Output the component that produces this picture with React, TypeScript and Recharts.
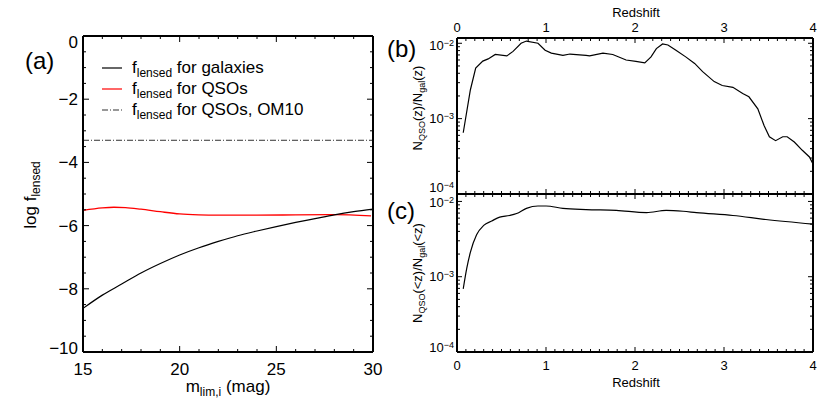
import React from "react";
import { LineChart, Line, XAxis, YAxis, Legend } from "recharts";

const FONT = "'Liberation Sans', Arial, Helvetica, sans-serif";

// panel (a): log of lensed fraction vs limiting i-band magnitude
const galaxyMag = [15, 16, 17, 18, 19, 20, 21, 22, 23, 24, 25, 26, 27, 28, 29, 30];
const galaxyLogF = [-8.62, -8.2, -7.85, -7.5, -7.2, -6.93, -6.7, -6.5, -6.32, -6.17, -6.03, -5.9, -5.78, -5.66, -5.56, -5.48];
const qsoMag = [15, 16, 16.6, 17.2, 18, 19, 20, 21, 22, 24, 26, 28, 29.9];
const qsoLogF = [-5.52, -5.44, -5.42, -5.43, -5.48, -5.56, -5.63, -5.66, -5.67, -5.67, -5.66, -5.65, -5.69];
const om10Mag = [15, 30];
const om10LogF = [-3.3, -3.3];

// panel (b): N_QSO(z)/N_gal(z)
const diffZ = [0.07, 0.15, 0.21, 0.29, 0.35, 0.43, 0.56, 0.63, 0.72, 0.78, 0.91, 0.99, 1.06, 1.19, 1.27, 1.45, 1.49, 1.64, 1.75, 1.9, 2.01, 2.11, 2.18, 2.24, 2.31, 2.37, 2.46, 2.57, 2.67, 2.76, 2.89, 2.98, 3.1, 3.21, 3.28, 3.38, 3.45, 3.51, 3.58, 3.66, 3.71, 3.79, 3.88, 3.96, 4.0];
const diffRatio = [6.5e-4, 2.4e-3, 4.7e-3, 5.8e-3, 6.2e-3, 7.1e-3, 6.8e-3, 7.8e-3, 1.0e-2, 1.07e-2, 1.0e-2, 8.1e-3, 7.4e-3, 6.9e-3, 7.2e-3, 6.9e-3, 6.8e-3, 7.4e-3, 7.1e-3, 6.0e-3, 5.75e-3, 5.5e-3, 6.6e-3, 8.5e-3, 9.8e-3, 9.5e-3, 8.1e-3, 6.6e-3, 5.4e-3, 4.2e-3, 3.1e-3, 2.75e-3, 2.6e-3, 2.15e-3, 1.95e-3, 1.35e-3, 8.1e-4, 5.75e-4, 5.1e-4, 5.75e-4, 5.75e-4, 4.9e-4, 3.8e-4, 3.1e-4, 2.5e-4];

// panel (c): N_QSO(<z)/N_gal(<z)
const cumZ = [0.07, 0.11, 0.15, 0.22, 0.3, 0.39, 0.48, 0.59, 0.67, 0.78, 0.91, 1.0, 1.19, 1.45, 1.79, 2.13, 2.35, 2.54, 2.69, 3.1, 3.47, 4.0];
const cumRatio = [6.9e-4, 1.3e-3, 2.1e-3, 3.6e-3, 4.8e-3, 5.5e-3, 6.2e-3, 6.5e-3, 6.9e-3, 8.1e-3, 8.7e-3, 8.7e-3, 8.1e-3, 7.8e-3, 7.6e-3, 7.1e-3, 7.6e-3, 7.4e-3, 7.1e-3, 6.5e-3, 5.75e-3, 5.0e-3];

// ticks
const magTicks = [15, 20, 25, 30];
const magMinor = [16, 17, 18, 19, 21, 22, 23, 24, 26, 27, 28, 29];
const logFTicks = [-10, -8, -6, -4, -2, 0];
const logFMinor = [-9.5, -9, -8.5, -7.5, -7, -6.5, -5.5, -5, -4.5, -3.5, -3, -2.5, -1.5, -1, -0.5];
const zTicks = [0, 1, 2, 3, 4];
const zMinor = Array.from({ length: 40 }, (_, i) => i / 10).filter((v) => v % 1 !== 0);
const ratioTicks = [1e-4, 1e-3, 1e-2];
const ratioMinor = [2e-4, 3e-4, 4e-4, 5e-4, 6e-4, 7e-4, 8e-4, 9e-4, 2e-3, 3e-3, 4e-3, 5e-3, 6e-3, 7e-3, 8e-3, 9e-3];

const legendLabels = ["for galaxies", "for QSOs", "for QSOs, OM10"];

const galaxyRows = galaxyMag.map((m, i) => ({ m, f: galaxyLogF[i] }));
const qsoRows = qsoMag.map((m, i) => ({ m, f: qsoLogF[i] }));
const om10Rows = om10Mag.map((m, i) => ({ m, f: om10LogF[i] }));
const diffRows = diffZ.map((z, i) => ({ z, r: diffRatio[i] }));
const cumRows = cumZ.map((z, i) => ({ z, r: cumRatio[i] }));

const SPINE = { stroke: "#000", strokeWidth: 2 };
const OM10_DASH = "6 2 1 2";

type Side = "left" | "right" | "top" | "bottom";
type LabelFn = (x: number, y: number, v: number) => React.ReactNode;

const near = (a: number, b: number) => Math.abs(a - b) <= Math.abs(b) * 1e-6 + 1e-9;
const minus = (v: number) => (v < 0 ? "\u2212" + Math.abs(v) : String(v));

// draws inward tick marks (and label for major ticks)
const tickMark = (side: Side, majors: number[], majorLen: number, minorLen: number, label?: LabelFn) =>
  (props: any) => {
    const { x, y, payload } = props;
    const v = payload.value;
    const major = majors.some((m) => near(v, m));
    const len = major ? majorLen : minorLen;
    const dx = side === "left" ? len : side === "right" ? -len : 0;
    const dy = side === "top" ? len : side === "bottom" ? -len : 0;
    return (
      <g>
        <line x1={x} y1={y} x2={x + dx} y2={y + dy} stroke="#000" strokeWidth={1} />
        {major && label ? label(x, y, v) : null}
      </g>
    );
  };

const magLabel: LabelFn = (x, y, v) => (
  <text x={x} y={y + 11} dy="0.71em" textAnchor="middle" fontSize={17} fontFamily={FONT} fill="#000">{v}</text>
);
const logFLabel: LabelFn = (x, y, v) => {
  const shift = v === 0 ? 6 : v === -10 ? -4 : 0;
  return (
    <text x={x - 5} y={y + shift} dy="0.35em" textAnchor="end" fontSize={17} fontFamily={FONT} fill="#000">{minus(v)}</text>
  );
};
const zTopLabel: LabelFn = (x, y, v) => (
  <text x={x} y={y - 6} textAnchor="middle" fontSize={13} fontFamily={FONT} fill="#000">{v}</text>
);
const zBottomLabel: LabelFn = (x, y, v) => (
  <text x={x} y={y + 9} dy="0.71em" textAnchor="middle" fontSize={13} fontFamily={FONT} fill="#000">{v}</text>
);
const powLabel = (shifts: Record<number, number>): LabelFn => (x, y, v) => {
  const e = Math.round(Math.log10(v));
  return (
    <text x={x - 3} y={y + (shifts[e] ?? 0)} dy="0.35em" textAnchor="end" fontSize={13} fontFamily={FONT} fill="#000">
      10<tspan fontSize={9} dy={-4}>{"\u2212" + Math.abs(e)}</tspan>
    </text>
  );
};

const LensedLegend = () => (
  <svg width={270} height={70} style={{ fontFamily: FONT }}>
    {legendLabels.map((txt, i) => (
      <g key={txt}>
        <line x1={6} x2={26} y1={12 + i * 21} y2={12 + i * 21}
          stroke={i === 1 ? "#ff0000" : i === 2 ? "#333" : "#000"} strokeWidth={1.2}
          strokeDasharray={i === 2 ? OM10_DASH : undefined} />
        <text x={36} y={17 + i * 21} fontSize={17} fill="#000">
          f<tspan fontSize={12} dy={4}>lensed</tspan><tspan dy={-4}>{" " + txt}</tspan>
        </text>
      </g>
    ))}
  </svg>
);

function LensedPanel() {
  return (
    <LineChart width={400} height={415} margin={{ top: 36, right: 27, bottom: 63, left: 83 }}>
      <XAxis xAxisId="bottom" orientation="bottom" mirror type="number" dataKey="m" domain={[15, 30]} allowDataOverflow
        ticks={[...magTicks, ...magMinor]} interval={0} height={1} tickLine={false} tickSize={0} tickMargin={0}
        axisLine={SPINE} tick={tickMark("bottom", magTicks, 6, 3, magLabel)} />
      <XAxis xAxisId="top" orientation="top" mirror type="number" dataKey="m" domain={[15, 30]} allowDataOverflow
        ticks={[...magTicks, ...magMinor]} interval={0} height={1} tickLine={false} tickSize={0} tickMargin={0}
        axisLine={SPINE} tick={tickMark("top", magTicks, 6, 3)} />
      <YAxis yAxisId="left" orientation="left" mirror type="number" domain={[-10, 0]} allowDataOverflow
        ticks={[...logFTicks, ...logFMinor]} interval={0} width={1} tickLine={false} tickSize={0} tickMargin={0}
        axisLine={SPINE} tick={tickMark("left", logFTicks, 6, 3, logFLabel)} />
      <YAxis yAxisId="right" orientation="right" mirror type="number" domain={[-10, 0]} allowDataOverflow
        ticks={[...logFTicks, ...logFMinor]} interval={0} width={1} tickLine={false} tickSize={0} tickMargin={0}
        axisLine={SPINE} tick={tickMark("right", logFTicks, 6, 3)} />
      <Legend layout="vertical" align="center" verticalAlign="middle"
        wrapperStyle={{ top: 56, left: 96, width: 270, height: 70 }} content={() => <LensedLegend />} />
      <Line xAxisId="bottom" yAxisId="left" data={om10Rows} dataKey="f" type="linear" stroke="#333"
        strokeWidth={1} strokeDasharray={OM10_DASH} dot={false} isAnimationActive={false} />
      <Line xAxisId="bottom" yAxisId="left" data={qsoRows} dataKey="f" type="monotone" stroke="#ff0000"
        strokeWidth={1.3} dot={false} isAnimationActive={false} />
      <Line xAxisId="bottom" yAxisId="left" data={galaxyRows} dataKey="f" type="monotone" stroke="#000"
        strokeWidth={1.2} dot={false} isAnimationActive={false} />
    </LineChart>
  );
}

type RatioProps = {
  rows: { z: number; r: number }[];
  height: number;
  margin: { top: number; right: number; bottom: number; left: number };
  yMax: number;
  topLabels: boolean;
  shifts: Record<number, number>;
  curve: "linear" | "monotone";
};

function RatioPanel({ rows, height, margin, yMax, topLabels, shifts, curve }: RatioProps) {
  const zAll = [...zTicks, ...zMinor];
  const rAll = [...ratioTicks, ...ratioMinor];
  return (
    <LineChart width={450} height={height} margin={margin}>
      <XAxis xAxisId="bottom" orientation="bottom" mirror type="number" dataKey="z" domain={[0, 4]} allowDataOverflow
        ticks={zAll} interval={0} height={1} tickLine={false} tickSize={0} tickMargin={0} axisLine={SPINE}
        tick={tickMark("bottom", zTicks, 5, 3, topLabels ? undefined : zBottomLabel)} />
      <XAxis xAxisId="top" orientation="top" mirror type="number" dataKey="z" domain={[0, 4]} allowDataOverflow
        ticks={zAll} interval={0} height={1} tickLine={false} tickSize={0} tickMargin={0} axisLine={SPINE}
        tick={tickMark("top", zTicks, 5, 3, topLabels ? zTopLabel : undefined)} />
      <YAxis yAxisId="left" orientation="left" mirror type="number" scale="log" domain={[1e-4, yMax]} allowDataOverflow
        ticks={rAll} interval={0} width={1} tickLine={false} tickSize={0} tickMargin={0} axisLine={SPINE}
        tick={tickMark("left", ratioTicks, 5, 3, powLabel(shifts))} />
      <YAxis yAxisId="right" orientation="right" mirror type="number" scale="log" domain={[1e-4, yMax]} allowDataOverflow
        ticks={rAll} interval={0} width={1} tickLine={false} tickSize={0} tickMargin={0} axisLine={SPINE}
        tick={tickMark("right", ratioTicks, 5, 3)} />
      <Line xAxisId="bottom" yAxisId="left" data={rows} dataKey="r" type={curve} stroke="#000"
        strokeWidth={1.2} dot={false} isAnimationActive={false} />
    </LineChart>
  );
}

export default function App() {
  const t = { fill: "#000", fontFamily: FONT };
  return (
    <div style={{ position: "relative", width: 830, height: 415, background: "#fff", fontFamily: FONT, overflow: "hidden" }}>
      <style>{"body{margin:0}"}</style>
      <div style={{ position: "absolute", left: 0, top: 0 }}>
        <LensedPanel />
      </div>
      <div style={{ position: "absolute", left: 380, top: 0 }}>
        <RatioPanel rows={diffRows} height={200} margin={{ top: 38, right: 17, bottom: 6, left: 77 }}
          yMax={0.01175} topLabels shifts={{ [-2]: 2, [-4]: -7 }} curve="linear" />
      </div>
      <div style={{ position: "absolute", left: 380, top: 190 }}>
        <RatioPanel rows={cumRows} height={225} margin={{ top: 4, right: 17, bottom: 63, left: 77 }}
          yMax={0.01255} topLabels={false} shifts={{ [-2]: 1, [-4]: -5 }} curve="monotone" />
      </div>
      <svg width={830} height={415} style={{ position: "absolute", left: 0, top: 0, pointerEvents: "none" }}>
        <text x={25} y={69} fontSize={24} {...t}>(a)</text>
        <text x={387} y={57} fontSize={24} {...t}>(b)</text>
        <text x={387} y={219} fontSize={24} {...t}>(c)</text>
        <text x={228} y={392} fontSize={17} textAnchor="middle" {...t}>
          m<tspan fontSize={12} dy={4}>lim,i</tspan><tspan dy={-4}> (mag)</tspan>
        </text>
        <text transform="translate(36,195) rotate(-90)" fontSize={17} textAnchor="middle" {...t}>
          log f<tspan fontSize={12} dy={4}>lensed</tspan>
        </text>
        <text x={636} y={17} fontSize={13} textAnchor="middle" {...t}>Redshift</text>
        <text x={636} y={387} fontSize={13} textAnchor="middle" {...t}>Redshift</text>
        <text transform="translate(422,108) rotate(-90)" fontSize={13} textAnchor="middle" {...t}>
          N<tspan fontSize={9} dy={3}>QSO</tspan><tspan dy={-3}>(z)/N</tspan><tspan fontSize={9} dy={3}>gal</tspan><tspan dy={-3}>(z)</tspan>
        </text>
        <text transform="translate(422,273) rotate(-90)" fontSize={13} textAnchor="middle" {...t}>
          N<tspan fontSize={9} dy={3}>QSO</tspan><tspan dy={-3}>(&lt;z)/N</tspan><tspan fontSize={9} dy={3}>gal</tspan><tspan dy={-3}>(&lt;z)</tspan>
        </text>
      </svg>
    </div>
  );
}
